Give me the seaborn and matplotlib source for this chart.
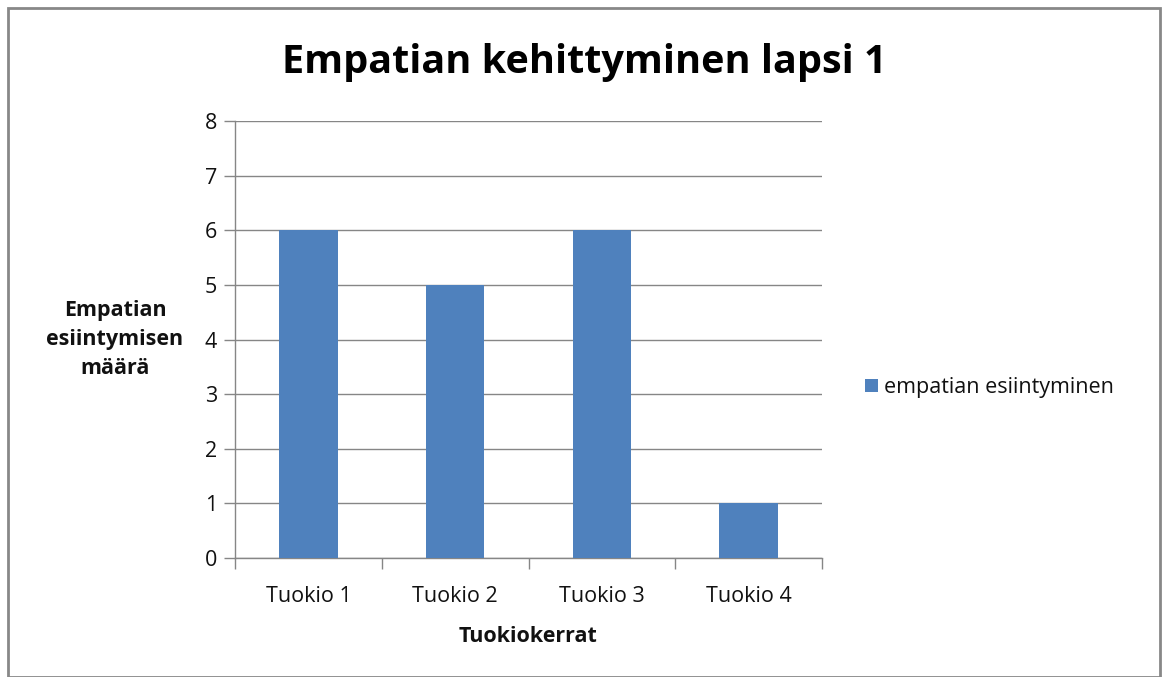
import pandas as pd
import seaborn as sns
import matplotlib.pyplot as plt
from matplotlib.patches import Rectangle

# Chart data
categories = ["Tuokio 1", "Tuokio 2", "Tuokio 3", "Tuokio 4"]
values = [6, 5, 6, 1]
series_name = "empatian esiintyminen"

df = pd.DataFrame({"tuokio": categories, "maara": values, "sarja": series_name})

sns.set_style("white")
plt.rcParams["font.family"] = ["Open Sans", "DejaVu Sans"]

grid_col = "#868686"
bar_col = "#4F81BD"
txt_col = "#111111"

fig = plt.figure(figsize=(11.69, 6.77), dpi=100)
ax = fig.add_axes([235 / 1169, 1 - 558 / 677, 587 / 1169, 437 / 677])

sns.barplot(data=df, x="tuokio", y="maara", hue="sarja", palette=[bar_col],
            width=0.4, ax=ax, zorder=3, saturation=1, linewidth=0)

ax.set_xlim(-0.5, 3.5)
ax.set_ylim(0, 8)
ax.set_yticks(range(0, 9))
ax.yaxis.grid(True, color=grid_col, linewidth=1, zorder=0)
ax.xaxis.grid(False)

for side in ["top", "right"]:
    ax.spines[side].set_visible(False)
for side in ["left", "bottom"]:
    ax.spines[side].set_color(grid_col)
    ax.spines[side].set_linewidth(1)

ax.tick_params(axis="y", which="major", left=True, length=8, color=grid_col,
               width=1, labelsize=15.5, labelcolor=txt_col, pad=5)
ax.tick_params(axis="x", which="major", length=0, labelsize=15.5,
               labelcolor=txt_col, pad=20)
ax.set_xticks([-0.5, 0.5, 1.5, 2.5, 3.5], minor=True)
ax.tick_params(axis="x", which="minor", bottom=True, length=8,
               color=grid_col, width=1)

ax.set_xlabel("Tuokiokerrat", fontsize=15.5, fontweight="bold", labelpad=14,
              color=txt_col)
ax.set_ylabel("")
fig.text(115 / 1169, 1 - 339 / 677, "Empatian\nesiintymisen\nmäärä",
         ha="center", va="center", fontsize=15.5, fontweight="bold",
         linespacing=1.5, color=txt_col)

fig.text(584 / 1169, 1 - 62 / 677, "Empatian kehittyminen lapsi 1",
         ha="center", va="center", fontsize=28.5, fontweight="bold",
         color="black")

leg = ax.legend(loc="center left", bbox_to_anchor=(1.04, 0.39), frameon=False,
                fontsize=15.5, handlelength=0.6, handleheight=0.6,
                handletextpad=0.3)
for t in leg.get_texts():
    t.set_color(txt_col)

fig.add_artist(Rectangle((8 / 1169, 0), 1152 / 1169, 1 - 8 / 677,
                         transform=fig.transFigure, fill=False,
                         edgecolor="#888888", linewidth=2))

fig.savefig("out.png", dpi=100)
